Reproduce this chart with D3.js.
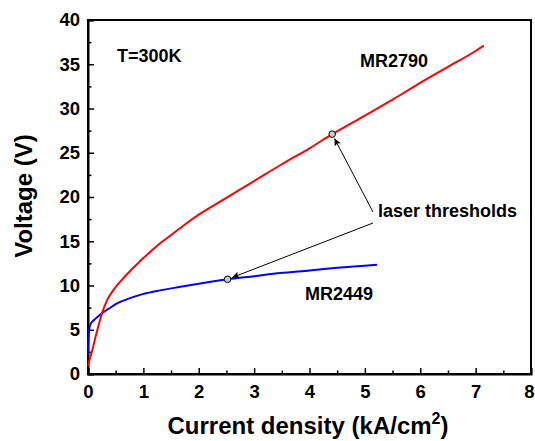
<!DOCTYPE html>
<html>
<head>
<meta charset="utf-8">
<script src="https://cdn.jsdelivr.net/npm/d3@7"></script>
<style>
  html, body { margin: 0; padding: 0; background: #fff; }
  svg { display: block; font-family: "Liberation Sans", Arial, sans-serif; font-weight: bold; }
</style>
</head>
<body>
<svg id="chart" width="535" height="441"></svg>
<script>
// ---- data ----
const xTicks = [0, 1, 2, 3, 4, 5, 6, 7, 8];
const yTicks = [0, 5, 10, 15, 20, 25, 30, 35, 40];

const mr2790J = [0, 0.04, 0.08, 0.12, 0.17, 0.25, 0.35, 0.45, 0.55, 0.65, 0.77, 0.9, 1.0, 1.25, 1.5, 1.75, 2.0, 2.5, 3.0, 3.5, 4.0, 4.41, 5.0, 5.5, 6.0, 6.5, 7.0, 7.15];
const mr2790V = [0.9, 1.9, 2.75, 3.8, 5.0, 6.8, 8.4, 9.4, 10.2, 10.9, 11.7, 12.5, 13.1, 14.5, 15.7, 16.9, 18.0, 19.9, 21.8, 23.7, 25.5, 27.1, 29.2, 31.0, 32.9, 34.7, 36.5, 37.1];

const mr2449J = [0, 0.005, 0.02, 0.05, 0.11, 0.18, 0.26, 0.38, 0.5, 0.77, 1.0, 1.3, 1.67, 2.0, 2.52, 3.0, 3.47, 4.0, 4.5, 5.22];
const mr2449V = [2.3, 3.5, 5.0, 5.7, 6.1, 6.5, 6.9, 7.4, 7.9, 8.6, 9.05, 9.45, 9.85, 10.2, 10.7, 11.05, 11.4, 11.7, 12.0, 12.35];

const thresholdJ = [4.41, 2.52];
const thresholdV = [27.1, 10.7];

// ---- layout ----
const svg = d3.select("#chart");
const mLeft = 88, mRight = 531, mTop = 20, mBottom = 374;
const x = d3.scaleLinear().domain([0, 8]).range([mLeft, mRight]);
const y = d3.scaleLinear().domain([0, 40]).range([mBottom, mTop]);

// frame
svg.append("rect").attr("x", mLeft).attr("y", mTop)
  .attr("width", mRight - mLeft).attr("height", mBottom - mTop)
  .attr("fill", "none").attr("stroke", "#000").attr("stroke-width", 2);

// x axis
const xAxis = d3.axisBottom(x).tickValues(xTicks).tickSize(-6).tickPadding(11)
  .tickFormat(d3.format("d"));
const gx = svg.append("g").attr("transform", `translate(0,${mBottom})`).call(xAxis);
gx.select(".domain").attr("stroke-width", 2);
gx.selectAll(".tick line").attr("stroke-width", 1.5);
gx.selectAll("text").attr("font-size", 18.5).attr("font-weight", "bold")
  .attr("font-family", "Liberation Sans, Arial, sans-serif").attr("fill", "#000")
  .attr("dx", d => d === 8 ? -2 : 0);
const xMinor = d3.axisBottom(x).tickValues(d3.range(0.5, 8, 1)).tickSize(-3.5).tickFormat("");
const gxm = svg.append("g").attr("transform", `translate(0,${mBottom})`).call(xMinor);
gxm.select(".domain").remove();
gxm.selectAll(".tick line").attr("stroke-width", 1.5);

// y axis
const yAxis = d3.axisLeft(y).tickValues(yTicks).tickSize(-6).tickPadding(8)
  .tickFormat(d3.format("d"));
const gy = svg.append("g").attr("transform", `translate(${mLeft},0)`).call(yAxis);
gy.select(".domain").attr("stroke-width", 2);
gy.selectAll(".tick line").attr("stroke-width", 1.5);
gy.selectAll("text").attr("font-size", 18.5).attr("font-weight", "bold")
  .attr("font-family", "Liberation Sans, Arial, sans-serif").attr("fill", "#000");
const yMinor = d3.axisLeft(y).tickValues(d3.range(2.5, 40, 5)).tickSize(-3.5).tickFormat("");
const gym = svg.append("g").attr("transform", `translate(${mLeft},0)`).call(yMinor);
gym.select(".domain").remove();
gym.selectAll(".tick line").attr("stroke-width", 1.5);

// lines
const lineGen = d3.line().x(d => x(d[0])).y(d => y(d[1])).curve(d3.curveMonotoneX);
svg.append("path").datum(d3.zip(mr2449J, mr2449V))
  .attr("d", lineGen)
  .attr("fill", "none").attr("stroke", "#0000ff").attr("stroke-width", 2);
svg.append("path").datum(d3.zip(mr2790J, mr2790V))
  .attr("d", lineGen)
  .attr("fill", "none").attr("stroke", "#ff0000").attr("stroke-width", 2);

// arrows
const defs = svg.append("defs");
defs.append("marker").attr("id", "arr").attr("viewBox", "0 0 10 10")
  .attr("refX", 10).attr("refY", 5).attr("markerWidth", 12).attr("markerHeight", 7)
  .attr("markerUnits", "userSpaceOnUse").attr("orient", "auto")
  .append("path").attr("d", "M0,0 L10,5 L0,10 L2,5 Z").attr("fill", "#000");

const thr = d3.zip(thresholdJ, thresholdV);
const starts = [[373, 212], [373, 223]];
thr.forEach((d, i) => {
  const tx = x(d[0]), ty = y(d[1]);
  const sx = starts[i][0], sy = starts[i][1];
  const dx = tx - sx, dy = ty - sy, len = Math.hypot(dx, dy);
  const ex = tx - dx / len * 5, ey = ty - dy / len * 5;
  svg.append("line").attr("x1", sx).attr("y1", sy).attr("x2", ex).attr("y2", ey)
    .attr("stroke", "#000").attr("stroke-width", 1).attr("marker-end", "url(#arr)");
});

svg.selectAll("circle.thr").data(thr).enter().append("circle")
  .attr("class", "thr").attr("cx", d => x(d[0])).attr("cy", d => y(d[1])).attr("r", 3.3)
  .attr("fill", "#c8c8c8").attr("stroke", "#000").attr("stroke-width", 1);

// labels
svg.append("text").attr("x", 117).attr("y", 62).attr("font-size", 18).text("T=300K");
svg.append("text").attr("x", 360).attr("y", 67).attr("font-size", 18).text("MR2790");
svg.append("text").attr("x", 305).attr("y", 300).attr("font-size", 18).text("MR2449");
svg.append("text").attr("x", 378).attr("y", 217).attr("font-size", 18).text("laser thresholds");

// axis titles
svg.append("text").attr("transform", "translate(32,196) rotate(-90)")
  .attr("text-anchor", "middle").attr("font-size", 24).text("Voltage (V)");
const xt = svg.append("text").attr("x", 308).attr("y", 434)
  .attr("text-anchor", "middle").attr("font-size", 24);
xt.append("tspan").text("Current density (kA/cm");
xt.append("tspan").attr("font-size", 16).attr("dy", -10).text("2");
xt.append("tspan").attr("dy", 10).text(")");
</script>
</body>
</html>
